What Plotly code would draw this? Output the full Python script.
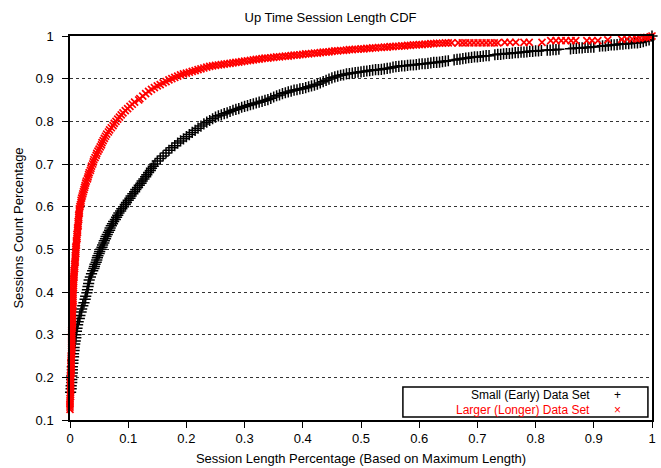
import plotly.graph_objects as go

# ---- data (CDF points) ----
small_x = [
    0.001, 0.002, 0.002, 0.003, 0.003, 0.003, 0.004, 0.004, 0.004, 0.005,
    0.005, 0.006, 0.006, 0.007, 0.007, 0.008, 0.009, 0.010, 0.010, 0.011,
    0.012, 0.013, 0.014, 0.016, 0.017, 0.019, 0.020, 0.022, 0.024, 0.026,
    0.027, 0.029, 0.030, 0.031, 0.032, 0.033, 0.035, 0.037, 0.039,
    0.041, 0.042, 0.043, 0.045, 0.046, 0.047, 0.048, 0.050, 0.051, 0.053,
    0.055, 0.056, 0.058, 0.059, 0.061, 0.062, 0.064, 0.066, 0.068, 0.069,
    0.071, 0.073, 0.075, 0.078, 0.080, 0.082, 0.084, 0.087, 0.089, 0.092,
    0.095, 0.097, 0.100, 0.103, 0.105, 0.108, 0.111, 0.113, 0.116, 0.119,
    0.122, 0.124, 0.127, 0.130, 0.132, 0.135, 0.138, 0.140, 0.143, 0.146,
    0.150, 0.155, 0.160, 0.165, 0.170, 0.175, 0.180, 0.185, 0.190, 0.195,
    0.200, 0.205, 0.210, 0.215, 0.220, 0.225, 0.230, 0.235, 0.240, 0.245,
    0.250, 0.255, 0.260, 0.265, 0.270, 0.275, 0.280, 0.285, 0.290, 0.295,
    0.300, 0.305, 0.310, 0.315, 0.320, 0.325, 0.330, 0.335, 0.340, 0.345,
    0.350,
    0.355, 0.360, 0.365, 0.370, 0.375, 0.380, 0.385, 0.390, 0.395, 0.400,
    0.405, 0.410, 0.415, 0.420, 0.425, 0.430, 0.435, 0.440, 0.445, 0.450,
    0.455, 0.460, 0.465, 0.470, 0.475, 0.480, 0.485, 0.490, 0.495, 0.500,
    0.505, 0.510, 0.515, 0.520, 0.525, 0.530, 0.535, 0.540, 0.545, 0.550,
    0.555, 0.560, 0.565, 0.570, 0.575, 0.580, 0.585, 0.590, 0.595, 0.600,
    0.605, 0.610, 0.615, 0.620, 0.625, 0.630, 0.635, 0.640, 0.645, 0.650,
    0.660, 0.665, 0.670, 0.675, 0.680, 0.685, 0.690, 0.695, 0.700, 0.705,
    0.710, 0.715, 0.720, 0.730, 0.735, 0.740, 0.745, 0.750, 0.755, 0.760,
    0.765, 0.770, 0.775, 0.780, 0.785, 0.790, 0.795, 0.800, 0.805, 0.810,
    0.820, 0.825, 0.830, 0.835, 0.840, 0.860, 0.865, 0.870, 0.875, 0.880,
    0.885, 0.890, 0.895, 0.900, 0.910, 0.915, 0.920, 0.925, 0.930, 0.935,
    0.940, 0.945, 0.950, 0.955, 0.960, 0.965, 0.970, 0.975, 0.980, 0.985,
    0.990, 0.995, 1.000]
small_y = [
    0.165, 0.173, 0.180, 0.188, 0.195, 0.203, 0.210, 0.218, 0.225, 0.233,
    0.240, 0.248, 0.255, 0.263, 0.270, 0.278, 0.285, 0.293, 0.300, 0.308,
    0.315, 0.323, 0.330, 0.338, 0.345, 0.353, 0.360, 0.368, 0.375, 0.383,
    0.390, 0.398, 0.405, 0.413, 0.420, 0.428, 0.435, 0.443, 0.450,
    0.455, 0.460, 0.465, 0.470, 0.475, 0.480, 0.485, 0.490, 0.495, 0.500,
    0.505, 0.510, 0.515, 0.520, 0.525, 0.530, 0.535, 0.540, 0.545, 0.550,
    0.555, 0.560, 0.565, 0.570, 0.575, 0.580, 0.585, 0.590, 0.595, 0.600,
    0.605, 0.610, 0.615, 0.620, 0.625, 0.630, 0.635, 0.640, 0.645, 0.650,
    0.655, 0.660, 0.665, 0.670, 0.675, 0.680, 0.685, 0.690, 0.695, 0.700,
    0.707, 0.713, 0.719, 0.726, 0.732, 0.738, 0.743, 0.749, 0.754, 0.759,
    0.764, 0.769, 0.774, 0.779, 0.784, 0.789, 0.794, 0.798, 0.802, 0.806,
    0.810, 0.813, 0.815, 0.818, 0.820, 0.823, 0.826, 0.828, 0.830, 0.833,
    0.835, 0.837, 0.839, 0.841, 0.843, 0.845, 0.847, 0.849, 0.851, 0.854,
    0.857,
    0.860, 0.862, 0.865, 0.867, 0.869, 0.871, 0.873, 0.874, 0.876, 0.877,
    0.879, 0.881, 0.883, 0.885, 0.887, 0.890, 0.893, 0.896, 0.899, 0.902,
    0.904, 0.906, 0.908, 0.909, 0.911, 0.912, 0.913, 0.914, 0.915, 0.916,
    0.917, 0.918, 0.919, 0.920, 0.921, 0.921, 0.922, 0.923, 0.924, 0.925,
    0.927, 0.928, 0.929, 0.930, 0.930, 0.931, 0.932, 0.932, 0.933, 0.934,
    0.935, 0.935, 0.936, 0.937, 0.938, 0.938, 0.939, 0.940, 0.941, 0.942,
    0.944, 0.945, 0.946, 0.947, 0.948, 0.949, 0.950, 0.951, 0.951, 0.952,
    0.953, 0.954, 0.954, 0.956, 0.957, 0.957, 0.958, 0.959, 0.959, 0.960,
    0.961, 0.961, 0.962, 0.962, 0.963, 0.964, 0.964, 0.965, 0.965, 0.966,
    0.967, 0.967, 0.968, 0.968, 0.969, 0.970, 0.971, 0.971, 0.972, 0.972,
    0.973, 0.973, 0.974, 0.974, 0.976, 0.977, 0.977, 0.978, 0.979, 0.979,
    0.980, 0.981, 0.981, 0.982, 0.982, 0.983, 0.984, 0.984, 0.985, 0.987,
    0.989, 0.991, 1.000]

large_x = [
    0.000, 0.000, 0.000, 0.000, 0.000, 0.000, 0.001, 0.001, 0.001, 0.001,
    0.001, 0.001, 0.001, 0.001, 0.001, 0.001,
    0.001, 0.002, 0.002, 0.002, 0.002, 0.002, 0.002, 0.002, 0.002, 0.002,
    0.003, 0.003, 0.003, 0.003, 0.003, 0.003, 0.003, 0.003, 0.003, 0.003,
    0.003, 0.003, 0.004, 0.004, 0.004, 0.004, 0.004, 0.004, 0.004, 0.004,
    0.004, 0.004, 0.005, 0.005, 0.005, 0.005, 0.005, 0.005, 0.005, 0.005,
    0.005, 0.006, 0.006, 0.006, 0.006, 0.006, 0.007, 0.007, 0.007, 0.007,
    0.008, 0.008, 0.008, 0.009, 0.009, 0.009, 0.009, 0.010, 0.010, 0.010,
    0.010, 0.011, 0.011, 0.011, 0.012, 0.012, 0.012, 0.013, 0.013, 0.013,
    0.014, 0.014, 0.014, 0.015, 0.015, 0.015, 0.016, 0.016, 0.016, 0.017,
    0.018, 0.019, 0.019, 0.020, 0.021, 0.022, 0.023, 0.024, 0.025, 0.026,
    0.027, 0.028, 0.030, 0.031, 0.032, 0.033, 0.035, 0.036, 0.037, 0.039,
    0.040, 0.041, 0.043, 0.045, 0.046, 0.048, 0.050, 0.052, 0.054, 0.055,
    0.057, 0.059, 0.061, 0.063, 0.066, 0.068, 0.071, 0.074, 0.076, 0.079,
    0.082, 0.085, 0.088, 0.091, 0.095, 0.099, 0.103, 0.107, 0.111, 0.118,
    0.120, 0.125, 0.130, 0.135, 0.140, 0.145, 0.150, 0.155, 0.160, 0.165,
    0.170, 0.175, 0.180, 0.185, 0.190, 0.195, 0.200, 0.205, 0.210, 0.215,
    0.220, 0.225, 0.230, 0.235, 0.240, 0.245, 0.250, 0.255, 0.260, 0.265,
    0.270, 0.275, 0.280, 0.285, 0.290, 0.295, 0.300,
    0.305, 0.310, 0.315, 0.320, 0.325, 0.330, 0.335, 0.340, 0.345, 0.350,
    0.355, 0.360, 0.365, 0.370, 0.375, 0.380, 0.385, 0.390, 0.395, 0.400,
    0.405, 0.410, 0.415, 0.420, 0.425, 0.430, 0.435, 0.440, 0.445, 0.450,
    0.455, 0.460, 0.465, 0.470, 0.475, 0.480, 0.485, 0.490, 0.495, 0.500,
    0.505, 0.510, 0.515, 0.520, 0.525, 0.530, 0.535, 0.540, 0.545, 0.550,
    0.555, 0.560, 0.565, 0.570, 0.575, 0.580, 0.585, 0.590, 0.595, 0.600,
    0.605, 0.610, 0.615, 0.620, 0.625, 0.630, 0.635, 0.640, 0.645, 0.650,
    0.656, 0.667, 0.674, 0.680, 0.687, 0.694, 0.701, 0.708, 0.715, 0.722,
    0.729, 0.735, 0.747, 0.756, 0.766, 0.780, 0.789, 0.811, 0.826, 0.835,
    0.844, 0.852, 0.861, 0.869, 0.888, 0.897, 0.907, 0.924, 0.948, 0.957,
    0.966, 0.973, 0.979, 0.986, 0.991, 0.997, 1.000]
large_y = [
    0.125, 0.130, 0.135, 0.140, 0.145, 0.150, 0.155, 0.160, 0.165, 0.170,
    0.175, 0.180, 0.185, 0.190, 0.195, 0.200,
    0.205, 0.210, 0.215, 0.220, 0.225, 0.230, 0.235, 0.240, 0.245, 0.250,
    0.255, 0.260, 0.265, 0.270, 0.275, 0.280, 0.285, 0.290, 0.295, 0.300,
    0.305, 0.310, 0.315, 0.320, 0.325, 0.330, 0.335, 0.340, 0.345, 0.350,
    0.355, 0.360, 0.365, 0.370, 0.375, 0.380, 0.385, 0.390, 0.395, 0.400,
    0.405, 0.410, 0.415, 0.420, 0.425, 0.430, 0.435, 0.440, 0.445, 0.450,
    0.455, 0.460, 0.465, 0.470, 0.475, 0.480, 0.485, 0.490, 0.495, 0.500,
    0.505, 0.510, 0.515, 0.520, 0.525, 0.530, 0.535, 0.540, 0.545, 0.550,
    0.555, 0.560, 0.565, 0.570, 0.575, 0.580, 0.585, 0.590, 0.595, 0.600,
    0.605, 0.610, 0.615, 0.620, 0.625, 0.630, 0.635, 0.640, 0.645, 0.650,
    0.655, 0.660, 0.665, 0.670, 0.675, 0.680, 0.685, 0.690, 0.695, 0.700,
    0.705, 0.710, 0.715, 0.720, 0.725, 0.730, 0.735, 0.740, 0.745, 0.750,
    0.755, 0.760, 0.765, 0.770, 0.775, 0.780, 0.785, 0.790, 0.795, 0.800,
    0.805, 0.810, 0.815, 0.820, 0.825, 0.830, 0.835, 0.840, 0.845, 0.850,
    0.853, 0.859, 0.865, 0.870, 0.875, 0.879, 0.883, 0.886, 0.890, 0.893,
    0.897, 0.900, 0.903, 0.906, 0.909, 0.911, 0.913, 0.915, 0.917, 0.919,
    0.921, 0.923, 0.925, 0.927, 0.929, 0.930, 0.931, 0.932, 0.933, 0.934,
    0.935, 0.936, 0.937, 0.938, 0.939, 0.940, 0.941,
    0.942, 0.943, 0.944, 0.945, 0.946, 0.947, 0.948, 0.948, 0.949, 0.950,
    0.951, 0.951, 0.952, 0.953, 0.953, 0.954, 0.955, 0.955, 0.956, 0.957,
    0.958, 0.958, 0.959, 0.960, 0.960, 0.961, 0.962, 0.962, 0.963, 0.964,
    0.965, 0.965, 0.966, 0.966, 0.967, 0.968, 0.968, 0.969, 0.969, 0.970,
    0.970, 0.971, 0.971, 0.972, 0.972, 0.973, 0.973, 0.974, 0.974, 0.975,
    0.975, 0.976, 0.976, 0.977, 0.977, 0.978, 0.978, 0.979, 0.979, 0.980,
    0.980, 0.981, 0.981, 0.982, 0.982, 0.983, 0.983, 0.983, 0.984, 0.984,
    0.984, 0.984, 0.984, 0.984, 0.984, 0.984, 0.984, 0.984, 0.984, 0.984,
    0.984, 0.984, 0.985, 0.985, 0.985, 0.985, 0.985, 0.985, 0.989, 0.989,
    0.989, 0.989, 0.989, 0.989, 0.989, 0.989, 0.989, 0.991, 0.992, 0.993,
    0.993, 0.994, 0.995, 0.996, 0.997, 0.998, 1.000]

assert len(small_x) == len(small_y), (len(small_x), len(small_y))
assert len(large_x) == len(large_y), (len(large_x), len(large_y))

x_ticks = [0, 0.1, 0.2, 0.3, 0.4, 0.5, 0.6, 0.7, 0.8, 0.9, 1]
x_tick_labels = ["0", "0.1", "0.2", "0.3", "0.4", "0.5", "0.6", "0.7", "0.8", "0.9", "1"]
y_ticks = [0.1, 0.2, 0.3, 0.4, 0.5, 0.6, 0.7, 0.8, 0.9, 1]
y_tick_labels = ["0.1", "0.2", "0.3", "0.4", "0.5", "0.6", "0.7", "0.8", "0.9", "1"]

series_names = ["Small (Early) Data Set", "Larger (Longer) Data Set"]

FONT = "Liberation Sans, Arial, sans-serif"
FS = 13
KEY_FS = 12

fig = go.Figure()
fig.add_trace(go.Scatter(
    x=small_x, y=small_y, mode="markers", name=series_names[0],
    marker=dict(symbol="cross-thin-open", size=8, color="black",
                line=dict(color="black", width=1.5)),
    cliponaxis=False))
fig.add_trace(go.Scatter(
    x=large_x, y=large_y, mode="markers", name=series_names[1],
    marker=dict(symbol="x-thin-open", size=7, color="red",
                line=dict(color="red", width=1.7)),
    cliponaxis=False))

fig.update_layout(
    width=661, height=468,
    margin=dict(l=70, r=9, t=36, b=48, autoexpand=False),
    paper_bgcolor="white", plot_bgcolor="white",
    showlegend=False,
    font=dict(family=FONT, size=FS, color="black"),
    title=dict(text="Up Time Session Length CDF", x=0.5, xanchor="center",
               y=1 - 17 / 468, yanchor="middle",
               font=dict(family=FONT, size=FS, color="black")),
    xaxis=dict(range=[0, 1], tickvals=x_ticks, ticktext=x_tick_labels,
               showgrid=False, zeroline=False, showline=True, mirror=True,
               linecolor="black", linewidth=1.5, ticks="outside", ticklen=6,
               tickcolor="black", tickfont=dict(size=FS, color="black"),
               automargin=False,
               title=dict(text="Session Length Percentage (Based on Maximum Length)",
                          font=dict(family=FONT, size=FS, color="black"), standoff=9)),
    yaxis=dict(range=[0.1, 1], tickvals=y_ticks, ticktext=y_tick_labels,
               showgrid=True, gridcolor="#333", griddash="dot", gridwidth=1,
               zeroline=False, showline=True, mirror=True,
               linecolor="black", linewidth=1.5, ticks="outside", ticklen=6,
               tickcolor="black", tickfont=dict(size=FS, color="black"),
               ticklabelstandoff=6, automargin=False,
               title=dict(text="Sessions Count Percentage",
                          font=dict(family=FONT, size=FS, color="black"), standoff=9)),
)

# gnuplot-style key box: right-aligned text, sample on the right
fig.add_shape(type="rect", xref="paper", yref="paper",
              x0=0.572, x1=0.993, y0=0.008, y1=0.086,
              line=dict(color="black", width=1.5), fillcolor="white", layer="above")
key_rows = [(series_names[0], "+", "black", 0.066),
            (series_names[1], "×", "red", 0.027)]
for label, sym, col, ypos in key_rows:
    fig.add_annotation(xref="paper", yref="paper", x=0.895, y=ypos,
                       xanchor="right", yanchor="middle", showarrow=False,
                       borderpad=0, text=label, font=dict(color=col, size=KEY_FS))
    fig.add_annotation(xref="paper", yref="paper", x=0.941, y=ypos,
                       xanchor="center", yanchor="middle", showarrow=False,
                       borderpad=0, text=sym, font=dict(color=col, size=KEY_FS))

fig.write_html("out.html")
